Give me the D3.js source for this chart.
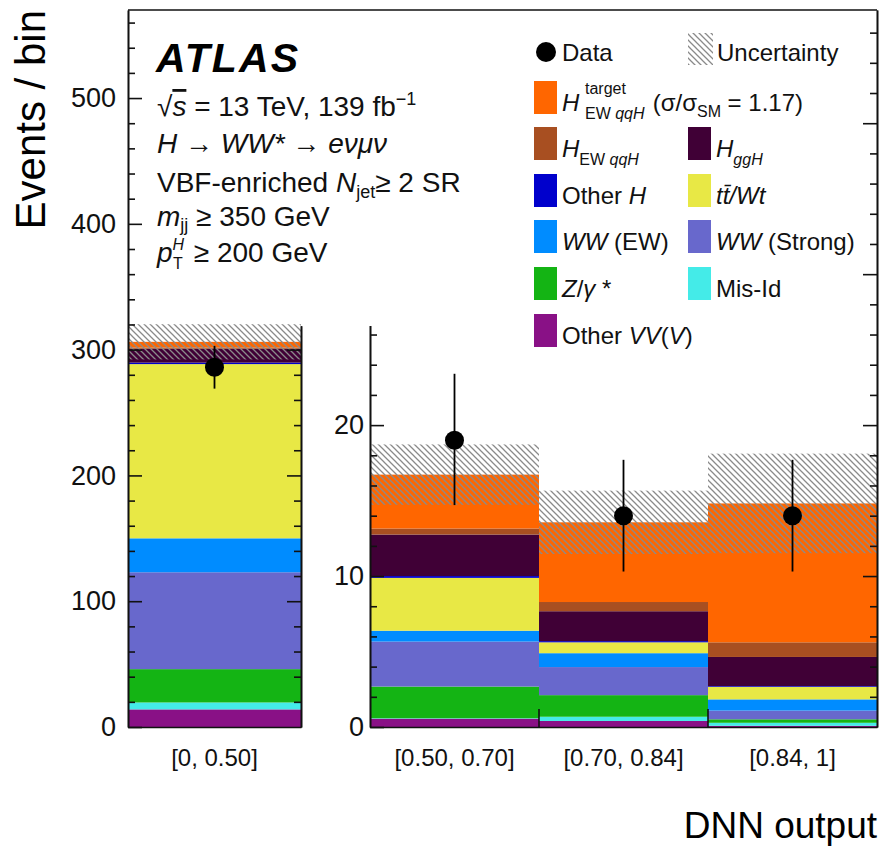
<!doctype html>
<html lang="en">

<head>
  <title>DNN output, VBF-enriched SR</title>
  <meta charset="utf-8" />
  <script src="https://cdn.jsdelivr.net/npm/d3@7"></script>
  <style>
    body { margin: 0; background: white; }
    svg { font-family: "Liberation Sans", Arial, Helvetica, sans-serif; }
  </style>
  <script>
    // bins of the DNN output, first one is drawn on its own (large) scale
    const bins = ["[0, 0.50]", "[0.50, 0.70]", "[0.70, 0.84]", "[0.84, 1]"];

    // stacked processes, bottom to top
    const otherVV = [14, 0.55, 0.4, 0.08];
    const misId = [5.5, 0.03, 0.28, 0.2];
    const zGamma = [26.5, 2.1, 1.43, 0.23];
    const wwStrong = [77, 2.98, 1.86, 0.58];
    const wwEW = [27, 0.72, 0.92, 0.74];
    const ttbarWt = [138.5, 3.5, 0.72, 0.83];
    const otherH = [1.2, 0.12, 0.08, 0.05];
    const hggH = [11, 2.75, 1.98, 1.93];
    const hEWqqH = [1.0, 0.4, 0.61, 0.97];
    const hTarget = [4.5, 3.57, 5.28, 9.2];

    const uncertainty = [14, 2.0, 2.1, 3.3];

    const dataCounts = [286, 19, 14, 14];
    const dataErrUp = [17, 4.4, 3.7, 3.7];
    const dataErrDown = [17, 4.3, 3.7, 3.7];

    const leftMajorTicks = [0, 100, 200, 300, 400, 500];
    const insetMajorTicks = [0, 10, 20];

    window.onload = () => {
      const w = 879;
      const h = 847;
      const font = "'Liberation Sans', Arial, Helvetica, sans-serif";

      const processes = [
        { key: "otherVV", color: "#891186", values: otherVV },
        { key: "misId", color: "#44ebe8", values: misId },
        { key: "zGamma", color: "#14b414", values: zGamma },
        { key: "wwStrong", color: "#6868cc", values: wwStrong },
        { key: "wwEW", color: "#008cff", values: wwEW },
        { key: "ttbarWt", color: "#e8e845", values: ttbarWt },
        { key: "otherH", color: "#0000cc", values: otherH },
        { key: "hggH", color: "#400036", values: hggH },
        { key: "hEWqqH", color: "#a84f21", values: hEWqqH },
        { key: "hTarget", color: "#ff6600", values: hTarget }
      ];
      const colorOf = {};
      processes.forEach(p => colorOf[p.key] = p.color);

      const table = bins.map((b, i) => {
        const row = { bin: b, i: i };
        processes.forEach(p => row[p.key] = p.values[i]);
        return row;
      });
      const series = d3.stack().keys(processes.map(p => p.key))(table);
      const totals = table.map(r => d3.sum(processes, p => r[p.key]));

      const plotTop = 10;
      const plotBottom = 727;
      const yLeft = d3.scaleLinear().domain([0, 570]).range([plotBottom, plotTop]);
      const yRight = d3.scaleLinear().domain([0, 47.5]).range([plotBottom, plotTop]);
      const xLeft = d3.scaleBand().domain(bins.slice(0, 1)).range([128, 301]);
      const xRight = d3.scaleBand().domain(bins.slice(1)).range([370, 877]);

      const xOf = i => i === 0 ? xLeft(bins[i]) : xRight(bins[i]);
      const bwOf = i => i === 0 ? xLeft.bandwidth() : xRight.bandwidth();
      const yOf = i => i === 0 ? yLeft : yRight;

      const svg = d3.select("#chart").append("svg").attr("width", w).attr("height", h);

      const defs = svg.append("defs");
      const hatch = defs.append("pattern")
        .attr("id", "hatch")
        .attr("patternUnits", "userSpaceOnUse")
        .attr("width", 6)
        .attr("height", 6);
      hatch.append("path")
        .attr("d", "M-1,-1L7,7M-1,5L1,7M5,-1L7,1")
        .attr("stroke", "#8a8a8a")
        .attr("stroke-width", 1.3);

      // stacked histograms
      const layers = svg.append("g")
        .selectAll("g")
        .data(series)
        .enter()
        .append("g")
        .attr("fill", d => colorOf[d.key]);

      layers.selectAll("rect")
        .data(d => d)
        .enter()
        .append("rect")
        .attr("x", d => xOf(d.data.i))
        .attr("width", d => bwOf(d.data.i))
        .attr("y", d => yOf(d.data.i)(d[1]))
        .attr("height", d => yOf(d.data.i)(d[0]) - yOf(d.data.i)(d[1]));

      // uncertainty band
      svg.append("g")
        .selectAll("rect")
        .data(table)
        .enter()
        .append("rect")
        .attr("x", d => xOf(d.i))
        .attr("width", d => bwOf(d.i))
        .attr("y", d => yOf(d.i)(totals[d.i] + uncertainty[d.i]))
        .attr("height", d => yOf(d.i)(totals[d.i] - uncertainty[d.i]) - yOf(d.i)(totals[d.i] + uncertainty[d.i]))
        .attr("fill", "url(#hatch)");

      // axes
      const styleAxis = g => {
        g.selectAll("path, line").attr("stroke", "#111").attr("stroke-width", 1.6);
        g.selectAll("text").attr("font-family", font).attr("font-size", 27).attr("fill", "#111");
      };
      const range = (a, b, s) => d3.range(a, b + 0.001, s);

      svg.append("g")
        .attr("transform", "translate(128,0)")
        .call(d3.axisLeft(yLeft).tickValues(range(20, 560, 20).filter(v => v % 100)).tickSize(-7).tickSizeOuter(0).tickFormat(""))
        .call(styleAxis);
      svg.append("g")
        .attr("transform", "translate(128,0)")
        .call(d3.axisLeft(yLeft).tickValues(leftMajorTicks).tickSize(-14).tickSizeOuter(0).tickPadding(12))
        .call(styleAxis);

      const yLeftShort = yLeft.copy().domain([0, 319]).range([plotBottom, yLeft(319)]);
      svg.append("g")
        .attr("transform", "translate(301,0)")
        .call(d3.axisRight(yLeftShort).tickValues(range(20, 300, 20).filter(v => v % 100)).tickSize(-7).tickSizeOuter(0).tickFormat(""))
        .call(styleAxis);
      svg.append("g")
        .attr("transform", "translate(301,0)")
        .call(d3.axisRight(yLeftShort).tickValues([100, 200, 300]).tickSize(-14).tickSizeOuter(0).tickFormat(""))
        .call(styleAxis);

      const yInset = yRight.copy().domain([0, 26.6]).range([plotBottom, yRight(26.6)]);
      svg.append("g")
        .attr("transform", "translate(370,0)")
        .call(d3.axisLeft(yInset).tickValues(range(2, 26, 2).filter(v => v % 10)).tickSize(-7).tickSizeOuter(0).tickFormat(""))
        .call(styleAxis);
      svg.append("g")
        .attr("transform", "translate(370,0)")
        .call(d3.axisLeft(yInset).tickValues(insetMajorTicks).tickSize(-14).tickSizeOuter(0).tickPadding(6))
        .call(styleAxis);

      svg.append("g")
        .attr("transform", "translate(877,0)")
        .call(d3.axisRight(yRight).tickValues(range(2, 46, 2).filter(v => v % 10)).tickSize(-7).tickSizeOuter(0).tickFormat(""))
        .call(styleAxis);
      svg.append("g")
        .attr("transform", "translate(877,0)")
        .call(d3.axisRight(yRight).tickValues([10, 20, 30, 40]).tickSize(-14).tickSizeOuter(0).tickFormat(""))
        .call(styleAxis);

      svg.append("line")
        .attr("x1", 128).attr("x2", 877)
        .attr("y1", plotTop).attr("y2", plotTop)
        .attr("stroke", "#111").attr("stroke-width", 1.6);

      const xAxisStyle = g => {
        styleAxis(g);
        g.selectAll("text").attr("font-size", 24);
      };
      svg.append("g")
        .attr("transform", "translate(0," + plotBottom + ")")
        .call(d3.axisBottom(xLeft).tickSize(0).tickPadding(22).tickSizeOuter(0))
        .call(xAxisStyle);
      svg.append("g")
        .attr("transform", "translate(0," + plotBottom + ")")
        .call(d3.axisBottom(xRight).tickSize(0).tickPadding(22).tickSizeOuter(0))
        .call(xAxisStyle);

      // bin edge ticks on the inset x axis
      svg.append("g")
        .selectAll("line")
        .data(bins.slice(2))
        .enter()
        .append("line")
        .attr("x1", d => xRight(d)).attr("x2", d => xRight(d))
        .attr("y1", plotBottom).attr("y2", plotBottom - 18)
        .attr("stroke", "#111").attr("stroke-width", 1.6);

      // data points
      const points = svg.append("g")
        .selectAll("g")
        .data(table)
        .enter()
        .append("g");
      points.append("line")
        .attr("x1", d => xOf(d.i) + bwOf(d.i) / 2)
        .attr("x2", d => xOf(d.i) + bwOf(d.i) / 2)
        .attr("y1", d => yOf(d.i)(dataCounts[d.i] + dataErrUp[d.i]))
        .attr("y2", d => yOf(d.i)(dataCounts[d.i] - dataErrDown[d.i]))
        .attr("stroke", "black")
        .attr("stroke-width", 1.8);
      points.append("circle")
        .attr("cx", d => xOf(d.i) + bwOf(d.i) / 2)
        .attr("cy", d => yOf(d.i)(dataCounts[d.i]))
        .attr("r", 9.5)
        .attr("fill", "black");

      // axis titles
      svg.append("text")
        .attr("transform", "translate(45,10) rotate(-90)")
        .attr("text-anchor", "end")
        .attr("font-size", 42)
        .text("Events / bin");
      svg.append("text")
        .attr("x", 877)
        .attr("y", 838)
        .attr("text-anchor", "end")
        .attr("font-size", 37)
        .text("DNN output");

      // rich text helper: parts are [text, options]
      const rich = (x, y, size, parts) => {
        const t = svg.append("text").attr("x", x).attr("y", y).attr("font-size", size).attr("fill", "#111");
        parts.forEach(p => {
          const o = p[1] || {};
          const s = t.append("tspan").text(p[0]);
          if (o.i) s.attr("font-style", "italic");
          if (o.fs) s.attr("font-size", o.fs);
          if (o.dy) s.attr("dy", o.dy);
          if (o.x !== undefined) s.attr("x", o.x);
          if (o.over) s.attr("text-decoration", "overline");
        });
        return t;
      };

      // ATLAS label block
      svg.append("text")
        .attr("x", 156)
        .attr("y", 72)
        .attr("font-size", 41)
        .attr("font-weight", "bold")
        .attr("font-style", "italic")
        .attr("textLength", 142)
        .attr("lengthAdjust", "spacing")
        .text("ATLAS");
      const tsz = 28;
      const tsub = 18;
      rich(157, 116, tsz, [["\u221a"], ["s", { i: true, over: true }], [" = 13 TeV, 139 fb"], ["\u22121", { fs: tsub, dy: -11 }]]);
      rich(157, 153, tsz, [["H", { i: true }], [" \u2192 "], ["WW*", { i: true }], [" \u2192 "], ["e\u03bd\u03bc\u03bd", { i: true }]]);
      rich(157, 192, tsz, [["VBF-enriched "], ["N", { i: true }], ["jet", { fs: tsub, dy: 6 }], ["\u2265 2 SR", { dy: -6 }]]);
      rich(157, 226, tsz, [["m", { i: true }], ["jj", { fs: tsub, dy: 5 }], [" \u2265 350 GeV", { dy: -5 }]]);
      rich(157, 262, tsz, [["p", { i: true }], ["H", { i: true, fs: 16, dy: -12 }], ["T", { fs: 16, dy: 19, x: 173 }], [" \u2265 200 GeV", { dy: -7, x: 186 }]]);

      // legend
      const small = 16;
      const boxW = 23;
      const boxH = 33;
      const col1 = 534;
      const col2 = 688;
      svg.append("circle").attr("cx", 546).attr("cy", 52).attr("r", 10).attr("fill", "black");
      rich(562, 61, 24, [["Data"]]);
      svg.append("rect").attr("x", col2).attr("y", 33).attr("width", 25).attr("height", 32).attr("fill", "url(#hatch)");
      rich(717, 61, 24, [["Uncertainty"]]);

      const legendRows = [
        { y: 81, c: "hTarget", parts: [["H", { i: true }], ["target", { fs: small, dy: -17, x: 585 }], ["EW ", { fs: small, dy: 25, x: 585 }], ["qqH", { i: true, fs: small }], [" (\u03c3/\u03c3", { dy: -8, x: 646 }], ["SM", { fs: small, dy: 6 }], [" = 1.17)", { dy: -6 }]] },
        { y: 127, c: "hEWqqH", parts: [["H", { i: true }], ["EW ", { fs: small, dy: 8 }], ["qqH", { i: true, fs: small }]] },
        { y: 127, c: "hggH", col: 2, parts: [["H", { i: true }], ["ggH", { i: true, fs: small, dy: 8 }]] },
        { y: 174, c: "otherH", parts: [["Other "], ["H", { i: true }]] },
        { y: 174, c: "ttbarWt", col: 2, parts: [["tt\u0304/Wt", { i: true }]] },
        { y: 220, c: "wwEW", parts: [["WW", { i: true }], [" (EW)"]] },
        { y: 220, c: "wwStrong", col: 2, parts: [["WW", { i: true }], [" (Strong)"]] },
        { y: 267, c: "zGamma", parts: [["Z", { i: true }], ["/"], ["\u03b3", { i: true }], [" *"]] },
        { y: 267, c: "misId", col: 2, parts: [["Mis-Id"]] },
        { y: 314, c: "otherVV", parts: [["Other "], ["VV", { i: true }], ["("], ["V", { i: true }], [")"]] }
      ];
      legendRows.forEach(r => {
        const bx = r.col === 2 ? col2 : col1;
        svg.append("rect")
          .attr("x", bx).attr("y", r.y)
          .attr("width", boxW).attr("height", boxH)
          .attr("fill", colorOf[r.c]);
        rich(bx + 28, r.y + 30, 24, r.parts);
      });
    }
  </script>
</head>

<body>
  <div id="chart"></div>
</body></html>
